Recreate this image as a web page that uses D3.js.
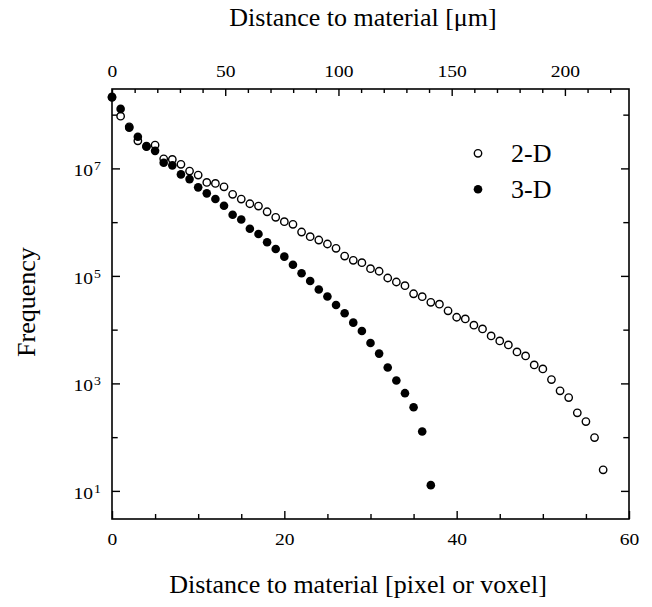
<!DOCTYPE html>
<html>
<head>
<meta charset="utf-8">
<script src="https://d3js.org/d3.v7.min.js"></script>
<style>
  body { margin: 0; background: #fff; }
  text { font-family: "Liberation Serif", "Times New Roman", serif; fill: #000; }
</style>
</head>
<body>
<svg class="target" width="652" height="607"></svg>
<script>

// frequency per distance step (index = distance in pixel / voxel)
twoD = [2.1e8, 9.38e7, 5.93e7, 3.26e7, 2.6e7, 2.71e7, 1.51e7, 1.47e7, 1.19e7, 8.91e6,
        7.5e6, 5.49e6, 5.26e6, 4.55e6, 3.29e6, 2.69e6, 2.2e6, 1.99e6, 1.56e6, 1.23e6,
        1.02e6, 9.1e5, 6.55e5, 5.36e5, 4.65e5, 3.92e5, 3.26e5, 2.34e5, 1.95e5, 1.76e5,
        1.36e5, 1.22e5, 9.14e4, 7.7e4, 6.58e4, 4.65e4, 4.1e4, 3.23e4, 2.98e4, 2.24e4,
        1.7e4, 1.58e4, 1.21e4, 1.03e4, 7.64e3, 6.17e3, 5.2e3, 3.85e3, 3.24e3, 2.21e3,
        1.86e3, 1.18e3, 726, 545, 283, 195, 98, 24.7]
threeD = [2.14e8, 1.28e8, 5.69e7, 3.87e7, 2.52e7, 2.12e7, 1.27e7, 1.14e7, 7.73e6, 6.32e6,
          4.44e6, 3.43e6, 2.69e6, 2.02e6, 1.37e6, 1.12e6, 7.54e5, 6.01e5, 4.22e5, 3.16e5,
          2.28e5, 1.61e5, 1.12e5, 8.04e4, 5.58e4, 4.14e4, 2.88e4, 2.02e4, 1.35e4, 9.46e3,
          5.66e3, 3.58e3, 1.97e3, 1.13e3, 658, 361, 127, 12.8]

xTicks = [0, 20, 40, 60]
xMinor = [5, 10, 15, 25, 30, 35, 45, 50, 55]
umTicks = [0, 50, 100, 150, 200]
umMinor = [10, 20, 30, 40, 60, 70, 80, 90, 110, 120, 130, 140, 160, 170, 180, 190, 210, 220]
yTicks = [1e1, 1e3, 1e5, 1e7]
yMinor = [1e2, 1e4, 1e6, 1e8]
umPerPixel = 3.805

margin = ({top: 89, right: 23, bottom: 88, left: 112})
width = 652
height = 607

svg = d3.select('.target')

x = d3.scaleLinear([0, 60], [margin.left, width - margin.right])
xum = d3.scaleLinear([0, 60 * umPerPixel], [margin.left, width - margin.right])
y = d3.scaleLog([3, 3e8], [height - margin.bottom, margin.top])

sx = 1.15  // tick labels look a bit wider than normal

function style(g) {
  g.select('.domain').remove()
  g.selectAll('line').attr('stroke', '#000').attr('stroke-width', 1.4)
  g.selectAll('text').style('font-size', '17px').attr('fill', '#000')
}

// bottom
svg.append('g').attr('transform', `translate(0,${y.range()[0]})`)
  .call(d3.axisBottom(x).tickValues(xTicks).tickSize(-8).tickSizeOuter(0).tickPadding(13.5))
  .call(style)
  .selectAll('text').attr('transform', `scale(${sx},1)`)
svg.append('g').attr('transform', `translate(0,${y.range()[0]})`)
  .call(d3.axisBottom(x).tickValues(xMinor).tickSize(-5).tickSizeOuter(0).tickFormat(''))
  .call(style)

// top (µm)
svg.append('g').attr('transform', `translate(0,${margin.top})`)
  .call(d3.axisTop(xum).tickValues(umTicks).tickSize(-7).tickSizeOuter(0).tickPadding(12))
  .call(style)
  .selectAll('text').attr('transform', `scale(${sx},1)`)
svg.append('g').attr('transform', `translate(0,${margin.top})`)
  .call(d3.axisTop(xum).tickValues(umMinor).tickSize(-4).tickSizeOuter(0).tickFormat(''))
  .call(style)

// left, labels as 10 with a superscript exponent
left = svg.append('g').attr('transform', `translate(${margin.left},0)`)
  .call(d3.axisLeft(y).tickValues(yTicks).tickSize(-8).tickSizeOuter(0).tickFormat(''))
  .call(style)
left.selectAll('.tick text').remove()
left.selectAll('.tick').append('text')
  .attr('transform', `scale(${sx},1)`)
  .attr('x', -19 / sx)
  .attr('y', 7.4)
  .attr('text-anchor', 'end')
  .style('font-size', '17px')
  .text('10')
left.selectAll('.tick').append('text')
  .attr('transform', `scale(${sx},1)`)
  .attr('x', -18 / sx)
  .attr('y', 1.5)
  .attr('text-anchor', 'start')
  .style('font-size', '12px')
  .text(d => Math.round(Math.log10(d)))
svg.append('g').attr('transform', `translate(${margin.left},0)`)
  .call(d3.axisLeft(y).tickValues(yMinor).tickSize(-5.7).tickSizeOuter(0).tickFormat(''))
  .call(style)

// right
svg.append('g').attr('transform', `translate(${width - margin.right},0)`)
  .call(d3.axisRight(y).tickValues(yTicks).tickSize(-8).tickSizeOuter(0).tickFormat(''))
  .call(style)
svg.append('g').attr('transform', `translate(${width - margin.right},0)`)
  .call(d3.axisRight(y).tickValues(yMinor).tickSize(-5.7).tickSizeOuter(0).tickFormat(''))
  .call(style)

// frame
svg.append('rect')
  .attr('x', margin.left).attr('y', margin.top)
  .attr('width', width - margin.left - margin.right)
  .attr('height', height - margin.top - margin.bottom)
  .attr('fill', 'none').attr('stroke', '#000').attr('stroke-width', 1.6)

// points
svg.append('g').selectAll('circle')
  .data(twoD)
  .join('circle')
    .attr('cx', (d, i) => x(i))
    .attr('cy', d => y(d))
    .attr('r', 3.7)
    .attr('fill', '#fff')
    .attr('stroke', '#000')
    .attr('stroke-width', 1.4)

svg.append('g').selectAll('circle')
  .data(threeD)
  .join('circle')
    .attr('cx', (d, i) => x(i))
    .attr('cy', d => y(d))
    .attr('r', 4.3)
    .attr('fill', '#000')

// legend
legend = [{label: '2-D', open: true}, {label: '3-D', open: false}]
lg = svg.append('g').selectAll('g')
  .data(legend)
  .join('g')
    .attr('transform', (d, i) => `translate(478,${153.3 + 36 * i})`)
lg.append('circle')
  .attr('r', d => d.open ? 3.7 : 4.3)
  .attr('fill', d => d.open ? '#fff' : '#000')
  .attr('stroke', d => d.open ? '#000' : 'none')
  .attr('stroke-width', 1.4)
lg.append('text')
  .attr('x', 33).attr('y', 8.7)
  .style('font-size', '26px')
  .text(d => d.label)

// axis titles
svg.append('text')
  .attr('x', 363).attr('y', 26)
  .attr('text-anchor', 'middle')
  .style('font-size', '26px')
  .text('Distance to material [μm]')

svg.append('text')
  .attr('x', 358).attr('y', 593)
  .attr('text-anchor', 'middle')
  .style('font-size', '26px')
  .text('Distance to material [pixel or voxel]')

svg.append('text')
  .attr('transform', 'translate(35,302) rotate(-90)')
  .attr('text-anchor', 'middle')
  .style('font-size', '26px')
  .text('Frequency')

</script>
</body>
</html>
